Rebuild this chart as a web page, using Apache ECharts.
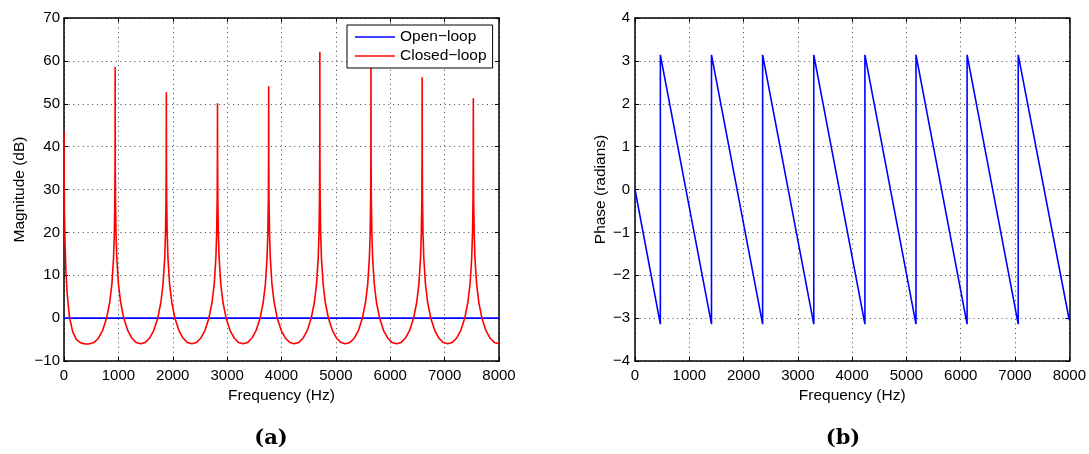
<!DOCTYPE html>
<html>
<head>
<meta charset="utf-8">
<script src="https://cdn.jsdelivr.net/npm/echarts@6/dist/echarts.min.js"></script>
<style>
html,body{margin:0;padding:0;background:#fff;}
#c{width:1089px;height:454px;}
</style>
</head>
<body>
<div id="c"></div>
<script>
// ---- Data ----
const freqTicks = [0, 1000, 2000, 3000, 4000, 5000, 6000, 7000, 8000];
const magTicks = [-10, 0, 10, 20, 30, 40, 50, 60, 70];
const phaseTicks = [-4, -3, -2, -1, 0, 1, 2, 3, 4];
const seriesNames = ['Open\u2212loop', 'Closed\u2212loop'];

// Open-loop magnitude (dB): flat at 0
const openLoopMag = [[0, 0], [8000, 0]];

// Closed-loop magnitude (dB): [frequency Hz, dB]
const closedLoopMag = [
  [0,43.5],[3,33],[8,25],[18,18],[35,11],[60,5.5],[100,0.3],[160,-3.2],[230,-5.0],[310,-5.8],[390,-6.0],[450,-6.05],
  [551,-5.7],[631,-4.7],[711,-2.85],[781,-0.1],[841,3.7],[881,8.0],[911,14.0],[926,20.0],[935,28.0],[939,37.5],[941,58.6],
  [943,37.5],[947,28.0],[956,20.0],[971,14.0],[1001,8.0],[1041,3.7],[1101,-0.1],[1171,-2.85],[1251,-4.7],[1331,-5.7],[1411,-6.0],
  [1492,-5.7],[1572,-4.7],[1652,-2.85],[1722,-0.1],[1782,3.7],[1822,8.0],[1852,14.0],[1867,20.0],[1876,28.0],[1880,37.5],[1882,52.7],
  [1884,37.5],[1888,28.0],[1897,20.0],[1912,14.0],[1942,8.0],[1982,3.7],[2042,-0.1],[2112,-2.85],[2192,-4.7],[2272,-5.7],[2352,-6.0],
  [2433,-5.7],[2513,-4.7],[2593,-2.85],[2663,-0.1],[2723,3.7],[2763,8.0],[2793,14.0],[2808,20.0],[2817,28.0],[2821,37.5],[2823,50.1],
  [2825,37.5],[2829,28.0],[2838,20.0],[2853,14.0],[2883,8.0],[2923,3.7],[2983,-0.1],[3053,-2.85],[3133,-4.7],[3213,-5.7],[3293,-6.0],
  [3374,-5.7],[3454,-4.7],[3534,-2.85],[3604,-0.1],[3664,3.7],[3704,8.0],[3734,14.0],[3749,20.0],[3758,28.0],[3762,37.5],[3764,54.1],
  [3766,37.5],[3770,28.0],[3779,20.0],[3794,14.0],[3824,8.0],[3864,3.7],[3924,-0.1],[3994,-2.85],[4074,-4.7],[4154,-5.7],[4234,-6.0],
  [4315,-5.7],[4395,-4.7],[4475,-2.85],[4545,-0.1],[4605,3.7],[4645,8.0],[4675,14.0],[4690,20.0],[4699,28.0],[4703,37.5],[4705,62.1],
  [4707,37.5],[4711,28.0],[4720,20.0],[4735,14.0],[4765,8.0],[4805,3.7],[4865,-0.1],[4935,-2.85],[5015,-4.7],[5095,-5.7],[5175,-6.0],
  [5256,-5.7],[5336,-4.7],[5416,-2.85],[5486,-0.1],[5546,3.7],[5586,8.0],[5616,14.0],[5631,20.0],[5640,28.0],[5644,37.5],[5646,60.0],
  [5648,37.5],[5652,28.0],[5661,20.0],[5676,14.0],[5706,8.0],[5746,3.7],[5806,-0.1],[5876,-2.85],[5956,-4.7],[6036,-5.7],[6116,-6.0],
  [6197,-5.7],[6277,-4.7],[6357,-2.85],[6427,-0.1],[6487,3.7],[6527,8.0],[6557,14.0],[6572,20.0],[6581,28.0],[6585,37.5],[6587,56.2],
  [6589,37.5],[6593,28.0],[6602,20.0],[6617,14.0],[6647,8.0],[6687,3.7],[6747,-0.1],[6817,-2.85],[6897,-4.7],[6977,-5.7],[7057,-6.0],
  [7138,-5.7],[7218,-4.7],[7298,-2.85],[7368,-0.1],[7428,3.7],[7468,8.0],[7498,14.0],[7513,20.0],[7522,28.0],[7526,37.5],[7528,51.3],
  [7530,37.5],[7534,28.0],[7543,20.0],[7558,14.0],[7588,8.0],[7628,3.7],[7688,-0.1],[7758,-2.85],[7838,-4.7],[7918,-5.7],[8000,-6.0]
];

// Phase (radians): [frequency Hz, phase]
const phaseData = [
  [0,0],
  [467,-3.1416],[467,3.1416],
  [1409,-3.1416],[1409,3.1416],
  [2351,-3.1416],[2351,3.1416],
  [3293,-3.1416],[3293,3.1416],
  [4235,-3.1416],[4235,3.1416],
  [5176,-3.1416],[5176,3.1416],
  [6117,-3.1416],[6117,3.1416],
  [7059,-3.1416],[7059,3.1416],
  [8000,-3.05]
];

const panelLabels = ['(a)', '(b)'];
const xName = 'Frequency (Hz)';
const yNames = ['Magnitude (dB)', 'Phase (radians)'];

// ---- Chart ----
const FONT = "'Liberation Sans', Arial, Helvetica, sans-serif";
const minusFmt = v => String(v).replace('-', '\u2212');

function xAxes(gi) {
  return [
    {
      type: 'value', gridIndex: gi, position: 'bottom',
      min: freqTicks[0], max: freqTicks[freqTicks.length - 1], interval: 1000,
      name: xName, nameLocation: 'middle', nameGap: 23,
      nameTextStyle: { fontFamily: FONT, fontSize: 15.5, color: '#000' },
      axisLine: { show: true, onZero: false, lineStyle: { color: '#000', width: 1.5 } },
      axisTick: { show: true, inside: true, length: 4, lineStyle: { color: '#000', width: 1 } },
      axisLabel: { show: true, margin: 7, fontFamily: FONT, fontSize: 15, color: '#000', formatter: minusFmt },
      splitLine: { show: true, lineStyle: { color: '#444', width: 1, type: [1, 3.7] } }
    },
    {
      type: 'value', gridIndex: gi, position: 'top',
      min: freqTicks[0], max: freqTicks[freqTicks.length - 1], interval: 1000,
      axisLine: { show: true, onZero: false, lineStyle: { color: '#000', width: 1.5 } },
      axisTick: { show: true, inside: true, length: 4, lineStyle: { color: '#000', width: 1 } },
      axisLabel: { show: false },
      splitLine: { show: false }
    }
  ];
}

function yAxes(gi, ticks, name, gap, margin) {
  return [
    {
      type: 'value', gridIndex: gi, position: 'left',
      min: ticks[0], max: ticks[ticks.length - 1], interval: ticks[1] - ticks[0],
      name: name, nameLocation: 'middle', nameGap: gap,
      nameTextStyle: { fontFamily: FONT, fontSize: 15.5, color: '#000' },
      axisLine: { show: true, onZero: false, lineStyle: { color: '#000', width: 1.5 } },
      axisTick: { show: true, inside: true, length: 4, lineStyle: { color: '#000', width: 1 } },
      axisLabel: { show: true, margin: margin, fontFamily: FONT, fontSize: 15, color: '#000', formatter: minusFmt },
      splitLine: { show: true, lineStyle: { color: '#444', width: 1, type: [1, 3.7] } }
    },
    {
      type: 'value', gridIndex: gi, position: 'right',
      min: ticks[0], max: ticks[ticks.length - 1], interval: ticks[1] - ticks[0],
      axisLine: { show: true, onZero: false, lineStyle: { color: '#000', width: 1.5 } },
      axisTick: { show: true, inside: true, length: 4, lineStyle: { color: '#000', width: 1 } },
      axisLabel: { show: false },
      splitLine: { show: false }
    }
  ];
}

const chart = echarts.init(document.getElementById('c'), null, { renderer: 'canvas' });
chart.setOption({
  animation: false,
  backgroundColor: '#fff',
  grid: [
    { left: 64, right: 590, top: 18, bottom: 93 },
    { left: 635, right: 18.5, top: 18, bottom: 93 }
  ],
  xAxis: [].concat(xAxes(0), xAxes(1)),
  yAxis: [].concat(yAxes(0, magTicks, yNames[0], 36, 4), yAxes(1, phaseTicks, yNames[1], 25, 5)),
  legend: {
    data: seriesNames.map(n => ({ name: n, icon: 'rect' })),
    orient: 'vertical',
    left: 347, top: 25,
    padding: [4, 6, 4, 8],
    itemWidth: 40, itemHeight: 1.6, itemGap: 3,
    backgroundColor: '#fff',
    borderColor: '#000', borderWidth: 1,
    textStyle: { fontFamily: FONT, fontSize: 15.5, color: '#000', lineHeight: 16 }
  },
  graphic: [
    { type: 'text', x: 271, y: 439, style: { text: panelLabels[0], font: "bold 21px 'DejaVu Serif', serif", fill: '#000', align: 'center', verticalAlign: 'middle' } },
    { type: 'text', x: 843, y: 439, style: { text: panelLabels[1], font: "bold 21px 'DejaVu Serif', serif", fill: '#000', align: 'center', verticalAlign: 'middle' } }
  ],
  series: [
    {
      name: seriesNames[0], type: 'line', xAxisIndex: 0, yAxisIndex: 0,
      data: openLoopMag, symbol: 'none', showSymbol: false,
      lineStyle: { color: '#0000ff', width: 1.6 }, itemStyle: { color: '#0000ff' }
    },
    {
      name: seriesNames[1], type: 'line', xAxisIndex: 0, yAxisIndex: 0,
      data: closedLoopMag, symbol: 'none', showSymbol: false,
      lineStyle: { color: '#ff0000', width: 1.6 }, itemStyle: { color: '#ff0000' }
    },
    {
      name: 'Phase', type: 'line', xAxisIndex: 2, yAxisIndex: 2,
      data: phaseData, symbol: 'none', showSymbol: false,
      lineStyle: { color: '#0000ff', width: 1.6 }, itemStyle: { color: '#0000ff' }
    }
  ]
});
</script>
</body>
</html>
